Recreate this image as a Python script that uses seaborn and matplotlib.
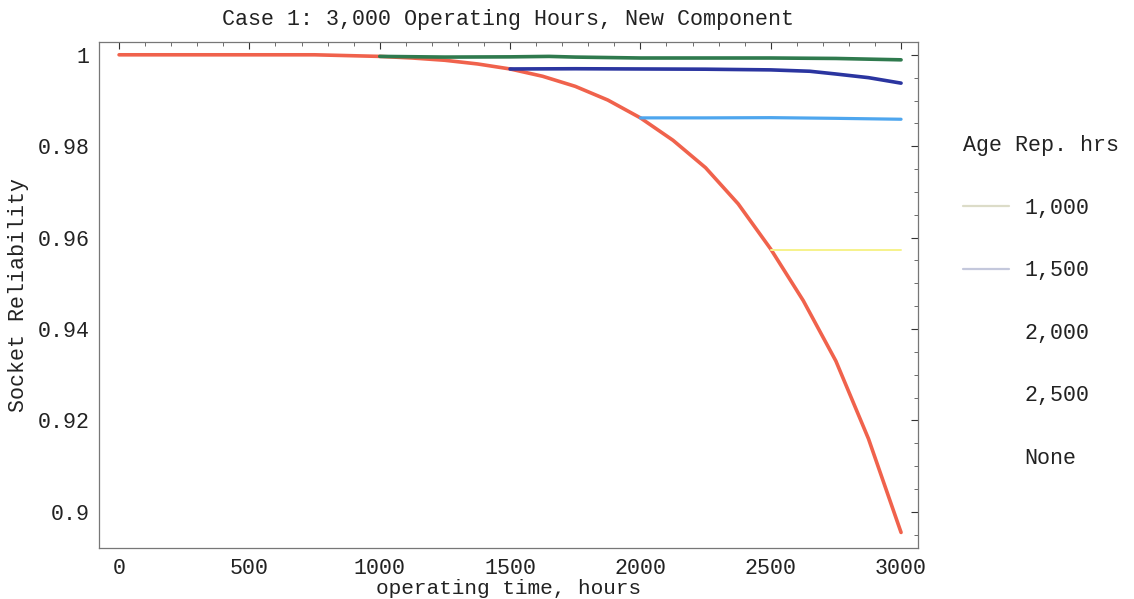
import numpy as np
import pandas as pd
import matplotlib
matplotlib.use("Agg")
import matplotlib.pyplot as plt
from matplotlib.lines import Line2D
from matplotlib.ticker import MultipleLocator, FuncFormatter
import seaborn as sns

# ---- data ----
t_none = [0, 250, 500, 750, 1000, 1125, 1250, 1375, 1500, 1625, 1750, 1875, 2000,
          2125, 2250, 2375, 2500, 2625, 2750, 2875, 3000]
r_none = [1.0, 1.0, 1.0, 1.0, 0.99965, 0.9993, 0.9988, 0.9980, 0.9969, 0.9953, 0.9931,
          0.9901, 0.9862, 0.9813, 0.9753, 0.9674, 0.9575, 0.9462, 0.9330, 0.9160, 0.8955]

t_1000 = [1000, 1250, 1500, 1650, 1750, 2000, 2250, 2500, 2750, 3000]
r_1000 = [0.99965, 0.9995, 0.99955, 0.99965, 0.9995, 0.9993, 0.9993, 0.9993, 0.9992, 0.9989]

t_1500 = [1500, 1750, 2000, 2250, 2500, 2650, 2750, 2875, 3000]
r_1500 = [0.9969, 0.99695, 0.9969, 0.99685, 0.9967, 0.9964, 0.9958, 0.9950, 0.9938]

t_2000 = [2000, 2250, 2500, 2750, 3000]
r_2000 = [0.9862, 0.9862, 0.98625, 0.9861, 0.9859]

t_2500 = [2500, 3000]
r_2500 = [0.9574, 0.9574]

legend_labels = ["1,000", "1,500", "2,000", "2,500", "None"]

frames = []
for name, t, r in [("None", t_none, r_none), ("2500", t_2500, r_2500),
                   ("2000", t_2000, r_2000), ("1500", t_1500, r_1500),
                   ("1000", t_1000, r_1000)]:
    frames.append(pd.DataFrame({"time": t, "rel": r, "rep": name}))
df = pd.concat(frames, ignore_index=True)

palette = {"1000": "#2f7a4e", "1500": "#2b35a0", "2000": "#4ea6ee",
           "2500": "#f6f28a", "None": "#f0624c"}
widths = {"1000": 2.6, "1500": 2.6, "2000": 2.3, "2500": 1.4, "None": 2.6}

sns.set_theme(style="white")
plt.rcParams["font.family"] = ["Liberation Mono", "DejaVu Sans Mono"]
plt.rcParams["text.color"] = "#222222"
plt.rcParams["axes.labelcolor"] = "#222222"
plt.rcParams["xtick.color"] = "#222222"
plt.rcParams["ytick.color"] = "#222222"

fig = plt.figure(figsize=(11.34, 5.99), dpi=100)
ax = fig.add_axes([99 / 1134, 1 - 548 / 599, (918 - 99) / 1134, (548 - 42) / 599])

for name in ["None", "2500", "2000", "1500", "1000"]:
    sub = df[df["rep"] == name]
    sns.lineplot(data=sub, x="time", y="rel", color=palette[name],
                 linewidth=widths[name], ax=ax, legend=False, sort=False)

ax.set_xlim(-77, 3065)
ax.set_ylim(0.8921, 1.0028)
ax.xaxis.set_major_locator(MultipleLocator(500))
ax.xaxis.set_minor_locator(MultipleLocator(100))
ax.yaxis.set_major_locator(MultipleLocator(0.02))
ax.yaxis.set_minor_locator(MultipleLocator(0.005))
ax.yaxis.set_major_formatter(FuncFormatter(lambda v, p: f"{v:g}"))

fs = 15.6
ax.tick_params(which="major", direction="in", length=5, width=0.8, top=True, right=True,
               labelsize=fs, colors="#333333", labelcolor="#222222")
ax.tick_params(axis="x", which="major", pad=7)
ax.tick_params(axis="y", which="major", pad=7)
ax.tick_params(which="minor", direction="in", length=3, width=0.6, top=True, right=True,
               colors="#555555")
for s in ax.spines.values():
    s.set_color("#777777")
    s.set_linewidth(0.9)

ax.set_xlabel("operating time, hours", fontsize=15.2)
ax.xaxis.label.set_va("bottom")
ax.xaxis.set_label_coords(0.5, (548 - 598) / 506)
ax.set_ylabel("Socket Reliability", fontsize=fs, labelpad=6)
ax.set_title("Case 1: 3,000 Operating Hours, New Component", fontsize=fs, pad=12)

# legend as drawn in the reference (faint samples for the first two entries only)
leg_colors = ["#dcdcc8", "#c4c8dc", "none", "none", "none"]
handles = [Line2D([], [], color=c, linewidth=1.6) for c in leg_colors]
leg = fig.legend(handles, legend_labels, title="Age Rep. hrs",
                 loc="upper left", bbox_to_anchor=(963 / 1134, 1 - 135 / 599),
                 frameon=False, fontsize=fs, title_fontsize=fs,
                 handlelength=2.1, handletextpad=0.75, labelspacing=1.92,
                 borderpad=0, borderaxespad=0, alignment="left")
leg._legend_box.sep = 30

fig.savefig("out.png", dpi=100, facecolor="white")
